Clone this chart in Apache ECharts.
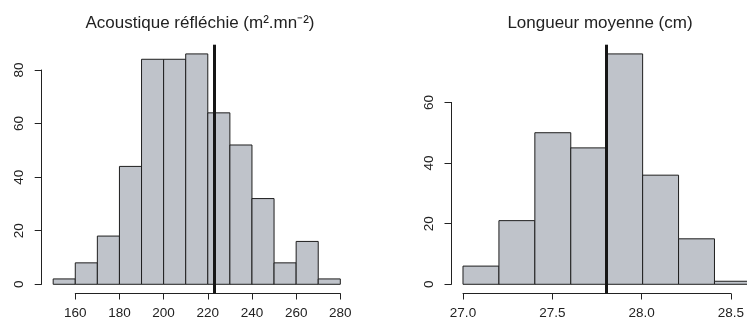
<!DOCTYPE html>
<html>
<head>
<meta charset="utf-8">
<script src="https://cdn.jsdelivr.net/npm/echarts@6/dist/echarts.min.js"></script>
<style>
html,body{margin:0;padding:0;background:#fff;}
#chart{width:747px;height:324px;}
</style>
</head>
<body>
<div id="chart"></div>
<script>
// ---- data ----
const acouTitle = 'Acoustique réfléchie (m².mn⁻²)';
const acouBreaks = [150,160,170,180,190,200,210,220,230,240,250,260,270,280];
const acouCounts = [2,8,18,44,84,84,86,64,52,32,8,16,2];
const acouMean = 222.9;
const acouXTicks = [160,180,200,220,240,260,280];
const acouYTicks = [0,20,40,60,80];

const lenTitle = 'Longueur moyenne (cm)';
const lenBreaks = [27.0,27.2,27.4,27.6,27.8,28.0,28.2,28.4,28.6];
const lenCounts = [6,21,50,45,76,36,15,1];
const lenMean = 27.8;
const lenXTicks = [27.0,27.5,28.0,28.5];
const lenYTicks = [0,20,40,60];

// ---- layout ----
const FONT = '"Liberation Sans", Arial, Helvetica, sans-serif';
const TXT = '#222';
const FILL = '#bfc3ca';
const EDGE = '#1e1e1e';
const plotTop = 44.7, plotBottom = 293.5;
const CANVAS_W = 747;

function panel(breaks, counts, xTicks, yTicks, mean, left, width, gi) {
  const xmin0 = breaks[0], xmax0 = breaks[breaks.length-1];
  const ymax0 = Math.max.apply(null, counts);
  const dx = (xmax0 - xmin0) * 0.04, dy = ymax0 * 0.04;
  const xmin = xmin0 - dx, ymin = -dy, ymax = ymax0 + dy;
  let xmax = xmax0 + dx;
  const ppu = width / (xmax - xmin);
  // keep the plot grid inside the canvas (same scale, shorter range)
  if (left + width > CANVAS_W - 0.5) {
    width = CANVAS_W - 0.5 - left;
    xmax = xmin + width / ppu;
  }
  const h = plotBottom - plotTop;
  const px = v => left + (v - xmin) * ppu;
  const py = v => plotBottom - (v - ymin) / (ymax - ymin) * h;
  const grids = [], xAxes = [], yAxes = [], series = [];
  const hidden = {show:false};
  // plot grid
  grids.push({left:left, top:plotTop, width:width, height:h});
  xAxes.push({type:'value', gridIndex:gi, min:xmin, max:xmax, show:false, splitLine:hidden});
  yAxes.push({type:'value', gridIndex:gi, min:ymin, max:ymax, show:false, splitLine:hidden});
  const data = counts.map((c,i)=>[breaks[i], breaks[i+1], c]);
  series.push({
    type:'custom', xAxisIndex:gi, yAxisIndex:gi, data:data, clip:false, silent:true,
    renderItem:function(params, api){
      const p0 = api.coord([api.value(0), 0]);
      const p1 = api.coord([api.value(1), api.value(2)]);
      return {type:'rect', shape:{x:p0[0], y:p1[1], width:p1[0]-p0[0], height:p0[1]-p1[1]},
        style:{fill:FILL, stroke:EDGE, lineWidth:1}};
    },
    markLine:{symbol:'none', silent:true, animation:false, label:{show:false},
      lineStyle:{color:'#161616', width:3, type:'solid'}, data:[{xAxis:mean}]}
  });
  // x axis grid
  const xa = xTicks[0], xb = xTicks[xTicks.length-1];
  grids.push({left:px(xa), top:plotBottom-10, width:px(xb)-px(xa), height:10});
  const xInt = xTicks[1]-xTicks[0];
  const dec = (String(xInt).split('.')[1]||'').length;
  xAxes.push({type:'value', gridIndex:gi+1, min:xa, max:xb, interval:xInt, position:'bottom',
    axisLine:{show:true, lineStyle:{color:TXT, width:1}},
    axisTick:{show:true, length:6, lineStyle:{color:TXT, width:1}},
    axisLabel:{show:true, margin:13, color:TXT, fontSize:13.5, fontFamily:FONT,
      formatter:v=>Number(v).toFixed(dec)},
    splitLine:hidden});
  yAxes.push({type:'value', gridIndex:gi+1, min:0, max:1, show:false, splitLine:hidden});
  // y axis grid
  const ya = yTicks[0], yb = yTicks[yTicks.length-1];
  grids.push({left:left, top:py(yb), width:10, height:py(ya)-py(yb)});
  xAxes.push({type:'value', gridIndex:gi+2, min:0, max:1, show:false, splitLine:hidden});
  yAxes.push({type:'value', gridIndex:gi+2, min:ya, max:yb, interval:yTicks[1]-yTicks[0], position:'left',
    axisLine:{show:true, lineStyle:{color:TXT, width:1}},
    axisTick:{show:true, length:7, lineStyle:{color:TXT, width:1}},
    axisLabel:{show:true, margin:15, rotate:90, color:TXT, fontSize:13.5, fontFamily:FONT},
    splitLine:hidden});
  return {grids, xAxes, yAxes, series};
}

const A = panel(acouBreaks, acouCounts, acouXTicks, acouYTicks, acouMean, 41.7, 310.1, 0);
const B = panel(lenBreaks, lenCounts, lenXTicks, lenYTicks, lenMean, 451.5, 310.4, 3);

const chart = echarts.init(document.getElementById('chart'), null, {renderer:'canvas'});
chart.setOption({
  animation:false,
  backgroundColor:'#fff',
  grid:A.grids.concat(B.grids),
  xAxis:A.xAxes.concat(B.xAxes),
  yAxis:A.yAxes.concat(B.yAxes),
  series:A.series.concat(B.series),
  graphic:[
    {type:'text', x:200, y:23, silent:true, style:{text:acouTitle, fill:TXT, fontSize:17, fontFamily:FONT, align:'center', verticalAlign:'middle'}},
    {type:'text', x:600, y:23, silent:true, style:{text:lenTitle, fill:TXT, fontSize:17, fontFamily:FONT, align:'center', verticalAlign:'middle'}}
  ]
});
</script>
</body>
</html>
